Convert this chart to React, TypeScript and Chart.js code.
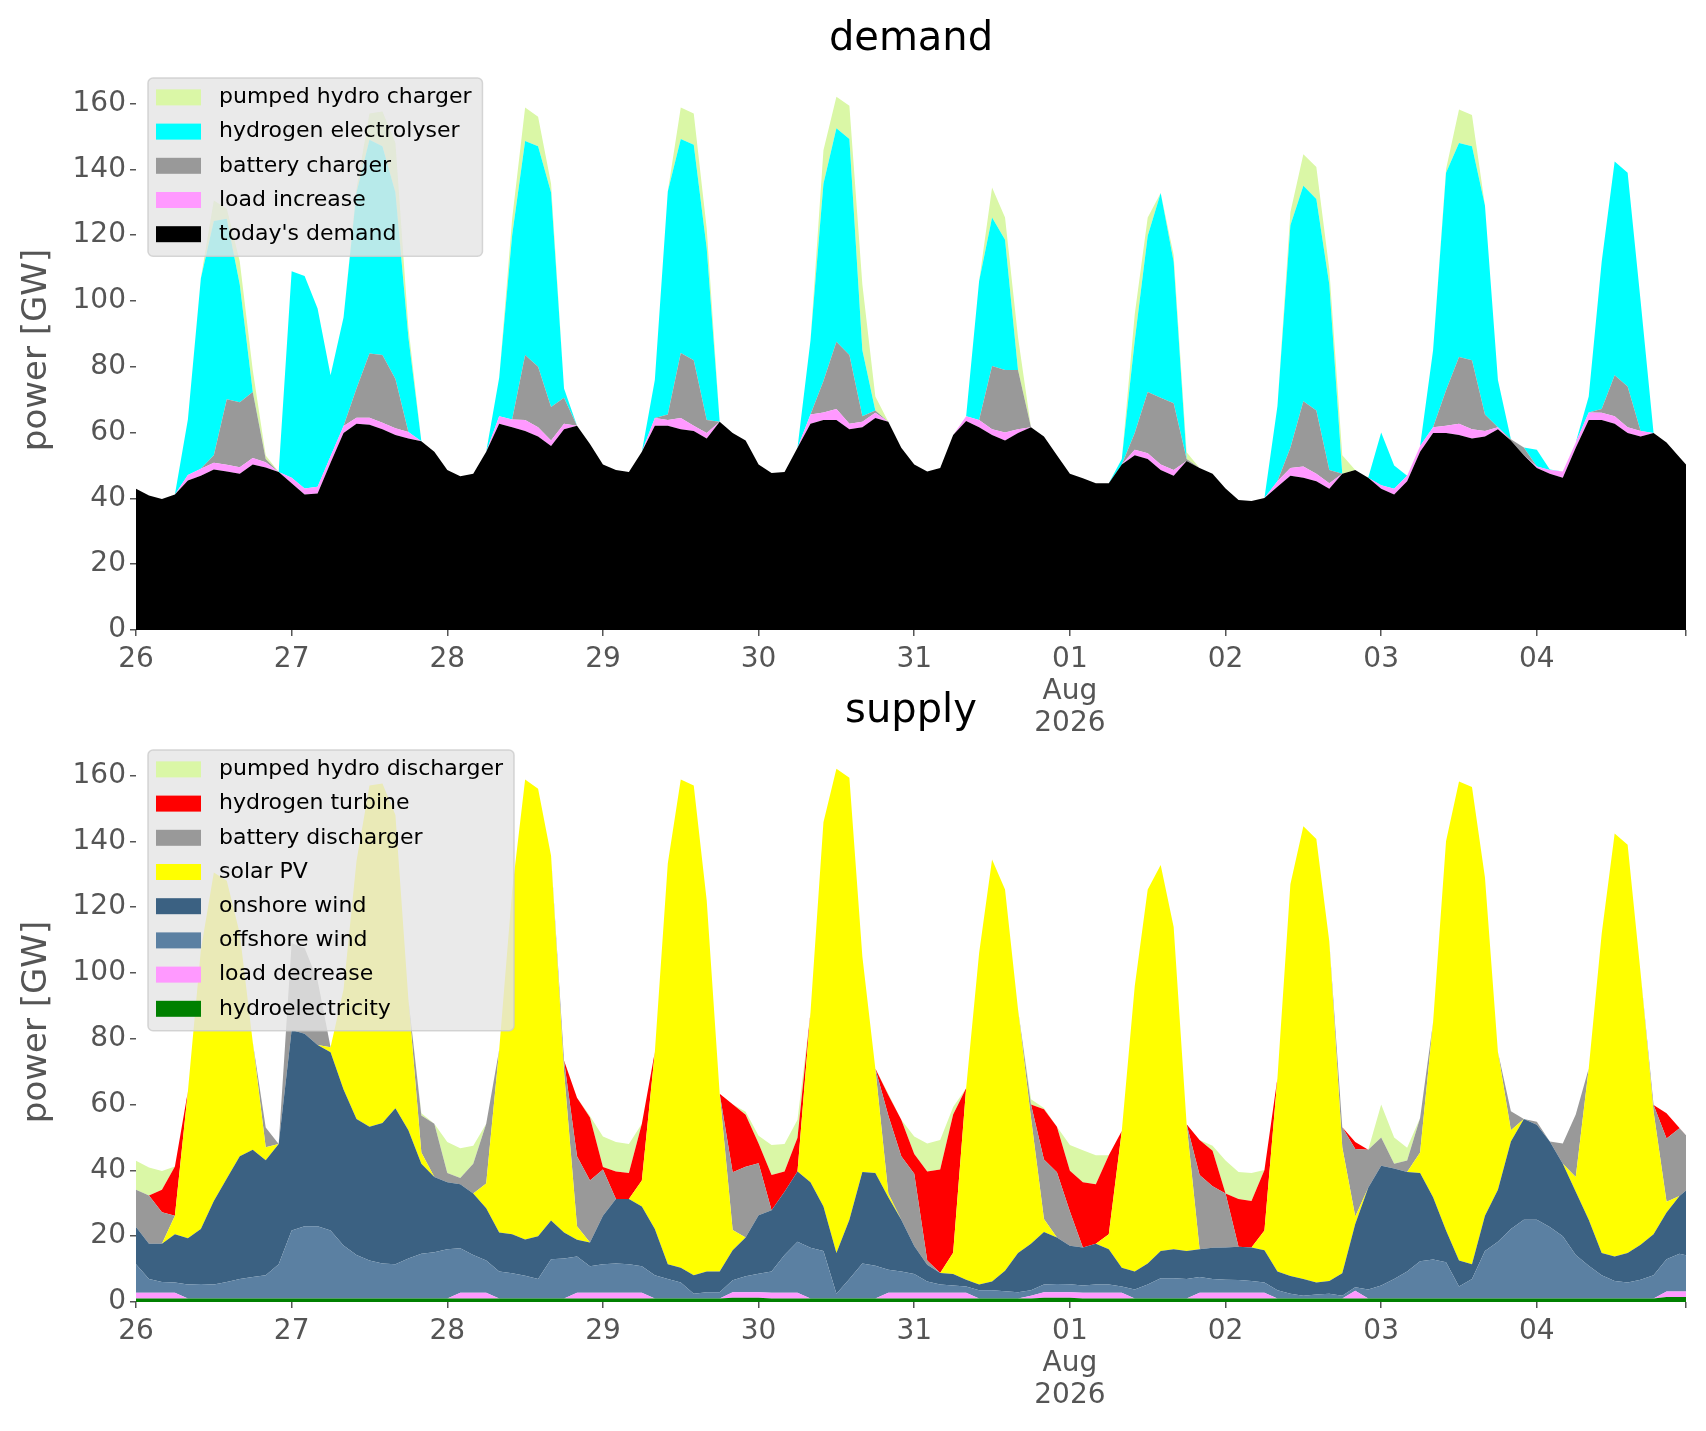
import { useEffect, useRef } from "react";
import { Chart, registerables } from "chart.js";

Chart.register(...registerables);

const FONT = "'DejaVu Sans', sans-serif";

// hours since 26 Jul 00:00, two-hourly samples plus the last hour
const HOURS = Array.from({ length: 121 }, (_, i) => (i < 120 ? i * 2 : 239));
const DAY_TICKS = [0, 24, 48, 72, 96, 120, 144, 168, 192, 216, 239];
const DAY_LABELS: (string | string[])[] = ["26", "27", "28", "29", "30", "31", ["01", "Aug", "2026"], "02", "03", "04", ""];
const Y_MAX = 170.2;

// ---- demand (GW) ----
const todaysDemand = [
  42.9, 40.9, 39.8, 41.2, 45.4, 46.9, 48.8, 48.2, 47.5, 50.3,
  49.4, 48.0, 44.6, 41.2, 41.5, 50.8, 59.9, 62.7, 62.4, 61.0,
  59.3, 58.2, 57.4, 54.2, 48.6, 46.7, 47.5, 54.2, 62.7, 61.6,
  60.5, 58.8, 55.9, 61.0, 62.1, 56.5, 50.3, 48.6, 48.0, 54.2,
  62.1, 62.1, 61.0, 60.5, 58.2, 63.3, 59.9, 57.6, 50.3, 47.7,
  48.0, 55.4, 62.7, 63.8, 63.8, 61.0, 61.6, 64.4, 63.3, 55.4,
  50.3, 48.2, 49.2, 59.3, 63.5, 61.6, 59.3, 57.6, 59.9, 61.6,
  58.8, 53.1, 47.5, 46.1, 44.6, 44.6, 50.3, 53.1, 52.0, 48.6,
  46.9, 51.4, 49.2, 47.5, 43.0, 39.5, 39.2, 40.1, 43.5, 46.9,
  46.3, 45.2, 42.9, 47.5, 48.6, 46.3, 42.9, 41.2, 45.2, 54.2,
  59.9, 59.9, 59.3, 58.2, 58.8, 61.0, 57.6, 53.1, 49.2, 47.5,
  46.3, 55.4, 63.8, 63.8, 62.7, 59.9, 58.8, 59.9, 57.0, 52.5,
  50.3,
];
const loadIncrease = [
  0, 0, 0, 0, 1.7, 2.1, 2.0, 2.0, 2.0, 2.0,
  1.6, 0, 1.7, 1.8, 2.0, 2.0, 2.1, 1.8, 2.1, 2.0,
  2.0, 2.0, 0, 0, 0, 0, 0, 0, 2.3, 2.4,
  3.3, 2.8, 1.7, 1.7, 0, 0, 0, 0, 0, 0,
  2.3, 1.7, 3.4, 1.6, 1.7, 0, 0, 0, 0, 0,
  0, 0, 2.8, 2.3, 3.4, 1.7, 1.7, 1.6, 0, 0,
  0, 0, 0, 0, 1.5, 2.2, 1.7, 2.4, 1.1, 0,
  0, 0, 0, 0, 0, 0, 0, 1.7, 1.7, 1.7,
  1.7, 0, 0, 0, 0, 0, 0, 0, 1.7, 2.3,
  3.4, 2.3, 1.7, 0, 0, 0, 1.1, 1.7, 1.7, 1.7,
  1.7, 2.2, 3.4, 2.8, 1.7, 0.6, 0, 0, 0.5, 1.1,
  1.9, 1.6, 2.3, 2.2, 2.3, 1.7, 1.7, 0, 0, 0,
  0,
];
const batteryCharger = [
  0, 0, 0, 0, 0, 0, 2.3, 19.9, 19.7, 20.0,
  1.0, 0, 0, 0, 0, 0, 0, 8.9, 19.5, 20.6,
  15.0, 0, 0, 0, 0, 0, 0, 0, 0, 0,
  19.8, 18.4, 10.2, 7.9, 0, 0, 0, 0, 0, 0,
  0, 1.7, 19.8, 19.9, 3.9, 0, 0, 0, 0, 0,
  0, 0, 0, 9.6, 20.4, 20.9, 1.7, 0.7, 0, 0,
  0, 0, 0, 0, 0, 0, 19.2, 19.0, 18.0, 0,
  0, 0, 0, 0, 0, 0, 0, 5.1, 18.6, 20.3,
  20.3, 0.6, 0, 0, 0, 0, 0, 0, 0, 6.2,
  19.8, 19.2, 4.0, 0, 0, 0, 0, 0, 0, 0,
  0, 10.8, 20.3, 21.0, 5.0, 0, 0.4, 2.4, 0, 0,
  0, 0, 0, 1.2, 12.4, 12.4, 0, 0, 0, 0,
  0,
];
const hydrogenElectrolyser = [
  0, 0, 0, 0, 16.9, 57.8, 71.2, 54.9, 35.8, 0.2,
  0, 0, 62.7, 64.6, 54.2, 24.6, 33.0, 59.6, 65.0, 63.4,
  56.7, 28.8, 0, 0, 0, 0, 0, 0, 11.7, 56.0,
  65.0, 67.0, 65.2, 2.8, 0, 0, 0, 0, 0, 0,
  11.6, 67.8, 65.0, 65.5, 52.2, 0, 0, 0, 0, 0,
  0, 0, 22.5, 59.9, 64.9, 65.6, 20.0, 0, 0, 0,
  0, 0, 0, 0, 0, 42.2, 45.2, 39.6, 0, 0,
  0, 0, 0, 0, 0, 0, 1.7, 28.1, 47.5, 62.2,
  43.0, 0, 0, 0, 0, 0, 0, 0, 22.8, 67.6,
  65.5, 64.3, 56.4, 0, 0, 0, 16.0, 7.1, 0, 0,
  23.4, 66.1, 65.0, 65.0, 63.5, 14.4, 0, 0, 5.1, 0.2,
  0, 0, 4.9, 44.7, 65.0, 65.0, 39.5, 0, 0, 0,
  0,
];
const pumpedHydroCharger = [
  0, 0, 0, 0, 0, 0.2, 6.2, 3.0, 7.0, 6.5,
  1.0, 0, 0, 0, 0, 0, 0, 1.0, 8.0, 10.6,
  15.0, 3.0, 0, 0, 0, 0, 0, 0, 0, 5.0,
  10.2, 9.0, 2.6, 0, 0, 0, 0, 0, 0, 0,
  0, 0, 9.6, 9.5, 6.0, 0, 0, 0, 0, 0,
  0, 0, 0, 10.2, 9.6, 10.1, 20.0, 4.3, 0, 0,
  0, 0, 0, 0, 0, 0, 9.1, 6.8, 10.0, 0,
  0, 0, 0, 0, 0, 0, 0, 8.0, 5.6, 0,
  2.1, 2.0, 0, 0, 0, 0, 0, 0, 0, 4.0,
  9.6, 9.7, 4.6, 5.6, 0, 0, 0, 0, 0, 0,
  0, 1.0, 10.2, 9.5, 0, 0, 0, 0, 0, 0,
  0, 0, 0, 0, 0, 0, 0, 0, 0, 0,
  0,
];

// ---- supply (GW) ----
const hydroelectricity = [
  1.1, 1.1, 1.1, 1.1, 1.1, 1.1, 1.1, 1.1, 1.1, 1.1,
  1.1, 1.1, 1.1, 1.1, 1.1, 1.1, 1.1, 1.1, 1.1, 1.1,
  1.1, 1.1, 1.1, 1.1, 1.1, 1.1, 1.1, 1.1, 1.1, 1.1,
  1.1, 1.1, 1.1, 1.1, 1.1, 1.1, 1.1, 1.1, 1.1, 1.1,
  1.1, 1.1, 1.1, 1.1, 1.1, 1.1, 1.3, 1.3, 1.3, 1.1,
  1.1, 1.1, 1.1, 1.1, 1.1, 1.1, 1.1, 1.1, 1.1, 1.1,
  1.1, 1.1, 1.1, 1.1, 1.1, 1.1, 1.1, 1.1, 1.1, 1.1,
  1.3, 1.3, 1.3, 1.1, 1.1, 1.1, 1.1, 1.1, 1.1, 1.1,
  1.1, 1.1, 1.1, 1.1, 1.1, 1.1, 1.1, 1.1, 1.1, 1.1,
  1.1, 1.1, 1.1, 1.1, 1.1, 1.1, 1.1, 1.1, 1.1, 1.1,
  1.1, 1.1, 1.1, 1.1, 1.1, 1.1, 1.1, 1.1, 1.1, 1.1,
  1.1, 1.1, 1.1, 1.1, 1.1, 1.1, 1.1, 1.1, 1.5, 1.5,
  1.5,
];
const loadDecrease = [
  1.7, 1.7, 1.7, 1.7, 0, 0, 0, 0, 0, 0,
  0, 0, 0, 0, 0, 0, 0, 0, 0, 0,
  0, 0, 0, 0, 0, 1.7, 1.7, 1.7, 0, 0,
  0, 0, 0, 0, 1.7, 1.7, 1.7, 1.7, 1.7, 1.7,
  0, 0, 0, 0, 0, 0, 1.7, 1.7, 1.7, 1.7,
  1.7, 1.7, 0, 0, 0, 0, 0, 0, 1.7, 1.7,
  1.7, 1.7, 1.7, 1.7, 1.7, 0, 0, 0, 0, 0.8,
  1.7, 1.7, 1.7, 1.7, 1.7, 1.7, 1.7, 0, 0, 0,
  0, 0, 1.7, 1.7, 1.7, 1.7, 1.7, 1.7, 0, 0,
  0, 0, 0, 0, 2.3, 0, 0, 0, 0, 0,
  0, 0, 0, 0, 0, 0, 0, 0, 0, 0,
  0, 0, 0, 0, 0, 0, 0, 0, 1.7, 1.7,
  1.7,
];
const offshoreWind = [
  8.7, 4.2, 3.3, 3.1, 4.2, 4.4, 4.2, 5.0, 5.9, 6.5,
  7.0, 10.4, 20.6, 21.9, 21.9, 20.6, 16.1, 13.2, 11.5, 10.6,
  10.4, 12.1, 13.6, 14.0, 14.9, 13.5, 11.5, 9.8, 8.2, 7.6,
  6.9, 5.9, 11.9, 12.1, 11.0, 8.1, 8.7, 8.9, 8.7, 8.1,
  7.0, 5.9, 4.8, 1.4, 1.9, 1.9, 3.6, 4.8, 5.6, 6.5,
  11.5, 15.5, 15.4, 14.4, 1.4, 5.9, 10.6, 9.9, 7.0, 6.5,
  5.7, 3.4, 2.5, 2.2, 1.9, 2.5, 2.5, 2.2, 1.9, 1.7,
  2.3, 2.5, 2.4, 2.2, 2.5, 2.5, 1.9, 2.7, 4.2, 6.1,
  6.1, 5.9, 4.8, 4.2, 4.0, 3.9, 3.6, 3.1, 2.5, 1.4,
  0.8, 1.2, 1.4, 0.8, 1.1, 2.7, 3.9, 5.9, 8.2, 11.3,
  11.8, 11.0, 3.6, 5.9, 14.4, 17.2, 21.1, 23.9, 23.9, 21.7,
  18.9, 13.2, 9.9, 7.0, 5.3, 4.8, 5.7, 7.0, 9.8, 11.5,
  11.0,
];
const onshoreWind = [
  11.3, 10.7, 11.6, 14.7, 14.1, 16.7, 25.4, 31.4, 37.3, 38.7,
  35.0, 36.5, 61.0, 58.5, 55.1, 54.2, 47.4, 41.3, 40.7, 42.7,
  47.4, 39.0, 27.3, 22.9, 20.4, 19.5, 18.7, 15.9, 11.8, 11.9,
  11.0, 13.0, 11.8, 7.9, 5.1, 7.2, 14.7, 19.6, 19.8, 18.1,
  14.1, 4.5, 4.5, 5.6, 6.3, 6.3, 9.1, 11.8, 17.8, 18.6,
  19.2, 21.4, 19.9, 13.5, 12.4, 18.0, 27.8, 28.2, 22.0, 15.7,
  8.5, 5.1, 3.5, 3.5, 2.1, 1.7, 2.6, 6.2, 11.9, 14.1,
  16.0, 14.1, 11.7, 11.6, 12.4, 10.7, 5.7, 5.5, 6.4, 8.3,
  8.8, 8.5, 8.4, 9.5, 9.8, 10.1, 10.2, 9.8, 5.7, 5.4,
  5.1, 3.6, 3.9, 6.8, 19.2, 30.9, 36.4, 33.6, 30.2, 26.8,
  18.9, 9.6, 7.9, 4.5, 10.7, 15.8, 26.6, 30.6, 28.9, 26.0,
  22.0, 19.2, 14.0, 6.8, 7.4, 9.0, 10.6, 12.5, 14.2, 17.5,
  19.7,
];
const solarPV = [
  0, 0, 0, 5.6, 44.6, 84.8, 99.8, 90.5, 67.7, 32.7,
  3.9, 0, 0, 0, 0, 1.5, 30.4, 78.4, 103.7, 103.2,
  89.1, 39.8, 3.4, 0, 0, 0, 0, 7.5, 55.6, 104.4,
  139.8, 136.0, 110.8, 48.9, 4.1, 0, 0, 0, 0, 7.9,
  53.8, 121.8, 148.4, 148.9, 112.7, 54.0, 6.2, 0, 0, 0,
  0, 0, 51.6, 116.8, 147.2, 134.3, 65.5, 31.8, 1.2, 0,
  0, 0, 0, 6.5, 58.2, 100.7, 128.3, 115.9, 74.1, 38.3,
  3.9, 0, 0, 0, 0, 4.6, 41.6, 86.7, 113.7, 117.3,
  98.0, 38.5, 0, 0, 0, 0, 0, 6.0, 58.7, 119.1,
  137.6, 134.8, 103.2, 38.3, 2.3, 0, 0, 0, 0, 6.2,
  53.2, 118.3, 145.6, 145.0, 102.8, 41.9, 3.4, 0, 0, 0,
  0, 4.5, 46.0, 97.0, 128.6, 124.1, 82.6, 37.2, 3.3, 0,
  0,
];
const batteryDischarger = [
  11.3, 14.7, 9.6, 0, 0, 0, 0, 0, 0, 0,
  6.0, 0, 26.3, 26.1, 19.6, 0, 0, 0, 0, 0,
  0, 0, 11.3, 16.2, 2.8, 1.9, 9.0, 18.2, 0, 0,
  0, 0, 0, 3.4, 21.3, 18.8, 14.1, 0, 0, 0,
  0, 0, 0, 0, 0, 0, 17.5, 21.5, 15.8, 0,
  0, 0, 0, 0, 0, 0, 0, 0, 23.7, 19.3,
  22.0, 1.3, 0, 0, 0, 0, 0, 0, 0, 4.0,
  18.1, 19.8, 10.4, 0, 0, 0, 0, 0, 0, 0,
  0, 0, 22.6, 18.7, 16.4, 0, 0, 0, 0, 0,
  0, 0, 0, 6.1, 20.5, 11.6, 8.6, 1.4, 3.5, 10.5,
  0, 0, 0, 0, 0, 0, 5.8, 0, 0.9, 0,
  6.2, 19.0, 0, 0, 0, 0, 0, 2.1, 19.2, 20.6,
  16.8,
];
const hydrogenTurbine = [
  0, 0, 6.8, 15.0, 0, 0, 0, 0, 0, 0,
  0, 0, 0, 0, 0, 0, 0, 0, 0, 0,
  0, 0, 0, 0, 0, 0, 0, 0, 0, 0,
  0, 0, 0, 0, 17.8, 19.2, 0.7, 8.4, 7.9, 17.3,
  0, 0, 0, 0, 0, 0, 20.7, 15.8, 6.0, 10.7,
  6.2, 10.2, 0, 0, 0, 0, 0, 0, 6.2, 11.1,
  6.0, 27.1, 31.5, 42.0, 0, 0, 0, 0, 0, 0,
  15.3, 13.9, 12.4, 19.8, 18.1, 24.0, 0, 0, 0, 0,
  0, 0, 10.6, 10.8, 0, 14.5, 14.1, 18.4, 0, 0,
  0, 0, 0, 0, 2.1, 0, 0, 0, 0, 0,
  0, 0, 0, 0, 0, 0, 0, 0, 0, 0,
  0, 0, 0, 0, 0, 0, 0, 0, 7.7, 0.1,
  0,
];
const pumpedHydroDischarger = [
  8.8, 8.5, 5.7, 0, 0, 0, 0, 0, 0, 0,
  0, 0, 0, 0, 0, 0, 0, 0, 0, 0,
  0, 0, 0.7, 0, 9.4, 9.0, 5.5, 0, 0, 0,
  0, 0, 0, 0, 0, 0.4, 9.3, 8.9, 8.8, 0,
  0, 0, 0, 0, 0, 0, 0, 0.9, 2.3, 9.1,
  8.3, 5.5, 0, 0, 0, 0, 0, 0, 0.4, 0,
  5.3, 8.5, 8.9, 2.3, 0, 0, 0, 0, 0, 1.6,
  0.4, 0, 7.8, 9.7, 8.8, 0, 0, 0, 0, 0,
  0, 0, 0, 1.5, 10.0, 8.2, 8.5, 0, 0, 0,
  0, 0, 0, 0, 0, 0, 10.0, 8.0, 3.9, 0,
  0, 0, 0, 0, 0, 0, 0, 0, 0, 0,
  0, 0, 0, 0, 0, 0, 0, 0, 0, 0,
  0,
];

type Layer = { label: string; color: string; values: number[] };

// bottom of the stack first
const DEMAND_LAYERS: Layer[] = [
  { label: "today's demand", color: "#000000", values: todaysDemand },
  { label: "load increase", color: "#ff99ff", values: loadIncrease },
  { label: "battery charger", color: "#999999", values: batteryCharger },
  { label: "hydrogen electrolyser", color: "#00ffff", values: hydrogenElectrolyser },
  { label: "pumped hydro charger", color: "#daf7a6", values: pumpedHydroCharger },
];
const SUPPLY_LAYERS: Layer[] = [
  { label: "hydroelectricity", color: "#008000", values: hydroelectricity },
  { label: "load decrease", color: "#ff99ff", values: loadDecrease },
  { label: "offshore wind", color: "#5b80a2", values: offshoreWind },
  { label: "onshore wind", color: "#3b6182", values: onshoreWind },
  { label: "solar PV", color: "#ffff00", values: solarPV },
  { label: "battery discharger", color: "#999999", values: batteryDischarger },
  { label: "hydrogen turbine", color: "#ff0000", values: hydrogenTurbine },
  { label: "pumped hydro discharger", color: "#daf7a6", values: pumpedHydroDischarger },
];

// matplotlib-like legend drawn inside the axes, top-left, over the areas
const insideLegend = {
  id: "insideLegend",
  afterDraw(chart: any) {
    const { ctx, chartArea } = chart;
    const items = chart.data.datasets
      .map((d: any) => ({ label: d.label as string, color: d.backgroundColor as string }))
      .reverse();
    ctx.save();
    ctx.font = `22px ${FONT}`;
    const textW = Math.max(...items.map((it: any) => ctx.measureText(it.label).width));
    const left = chartArea.left + 12;
    const top = chartArea.top + 8;
    const w = 71 + textW + 11;
    const h = 19.4 + (items.length - 1) * 34.2 + 22;
    ctx.beginPath();
    ctx.roundRect(left, top, w, h, 5);
    ctx.fillStyle = "rgba(229,229,229,0.8)";
    ctx.fill();
    ctx.strokeStyle = "rgba(204,204,204,0.8)";
    ctx.lineWidth = 1.5;
    ctx.stroke();
    items.forEach((it: any, i: number) => {
      const cy = top + 19.4 + i * 34.2;
      ctx.fillStyle = it.color;
      ctx.fillRect(left + 8, cy - 8, 45, 16);
      ctx.fillStyle = "#000";
      ctx.textBaseline = "middle";
      ctx.textAlign = "left";
      ctx.fillText(it.label, left + 71, cy);
    });
    ctx.restore();
  },
};

function StackChart({
  title,
  layers,
  height,
  titlePad,
  xAxisHeight,
}: {
  title: string;
  layers: Layer[];
  height: number;
  titlePad: { top: number; bottom: number };
  xAxisHeight: number;
}) {
  const ref = useRef<HTMLCanvasElement>(null);

  useEffect(() => {
    if (!ref.current) return;
    const tickGrid = {
      display: true,
      drawOnChartArea: false,
      drawTicks: true,
      tickLength: 6,
      color: "#555555",
      lineWidth: 1.5,
    };
    const chart = new Chart(ref.current, {
      type: "line",
      data: {
        datasets: layers.map((l, i) => ({
          label: l.label,
          data: HOURS.map((x, k) => ({ x, y: l.values[k] })),
          backgroundColor: l.color,
          borderColor: l.color,
          borderWidth: 0,
          pointRadius: 0,
          tension: 0,
          fill: i === 0 ? "origin" : "-1",
        })),
      },
      options: {
        responsive: false,
        animation: false,
        layout: { padding: { left: 0, right: 20, top: 0, bottom: 0 } },
        plugins: {
          legend: { display: false },
          tooltip: { enabled: false },
          title: {
            display: true,
            text: title,
            color: "#000",
            fullSize: false,
            font: { family: FONT, size: 40, weight: "normal" },
            padding: titlePad,
          },
        },
        scales: {
          x: {
            type: "linear",
            min: 0,
            max: 239,
            afterBuildTicks: (s: any) => {
              s.ticks = DAY_TICKS.map((v) => ({ value: v }));
            },
            afterFit: (s: any) => {
              s.height = xAxisHeight;
            },
            ticks: {
              autoSkip: false,
              maxRotation: 0,
              color: "#555555",
              padding: 8,
              font: { family: FONT, size: 28, lineHeight: 1.14 },
              callback: (v: any) => DAY_LABELS[DAY_TICKS.indexOf(Number(v))] ?? "",
            },
            grid: tickGrid,
            border: { display: false },
          },
          y: {
            stacked: true,
            min: 0,
            max: Y_MAX,
            afterBuildTicks: (s: any) => {
              s.ticks = s.ticks.filter((t: any) => t.value % 20 === 0);
            },
            afterFit: (s: any) => {
              s.width = 136;
            },
            ticks: {
              stepSize: 20,
              color: "#555555",
              padding: 4,
              font: { family: FONT, size: 28 },
            },
            grid: tickGrid,
            border: { display: false },
            title: {
              display: true,
              text: "power [GW]",
              color: "#555555",
              font: { family: FONT, size: 34 },
              padding: { top: 17, bottom: 0 },
            },
          },
        },
      } as any,
      plugins: [insideLegend],
    });
    return () => chart.destroy();
  }, [title, layers, height, titlePad, xAxisHeight]);

  return <canvas ref={ref} width={1706} height={height} style={{ display: "block", width: 1706, height }} />;
}

const DEMAND_PAD = { top: 16, bottom: 6 };
const SUPPLY_PAD = { top: 18, bottom: 6 };

export default function App() {
  return (
    <div style={{ position: "fixed", left: 0, top: 0, width: 1706, height: 1431, background: "#fff" }}>
      <div style={{ position: "absolute", left: 0, top: 0 }}>
        <StackChart title="demand" layers={DEMAND_LAYERS} height={760} titlePad={DEMAND_PAD} xAxisHeight={130} />
      </div>
      <div style={{ position: "absolute", left: 0, top: 670 }}>
        <StackChart title="supply" layers={SUPPLY_LAYERS} height={761} titlePad={SUPPLY_PAD} xAxisHeight={129} />
      </div>
    </div>
  );
}
